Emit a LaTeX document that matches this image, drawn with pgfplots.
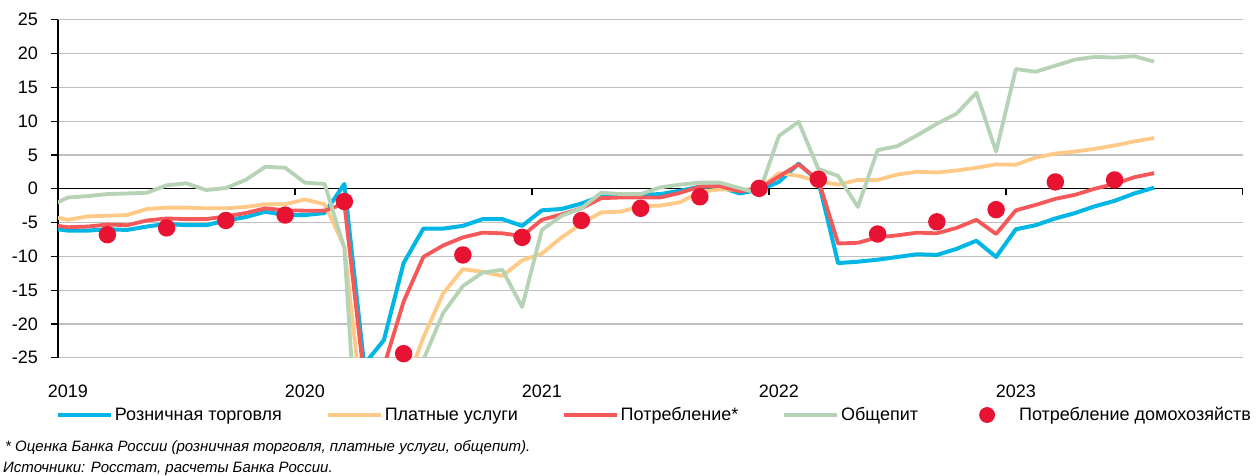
\documentclass[border=0pt]{standalone}
\usepackage{fontspec}
\setmainfont{Liberation Sans}
\usepackage{pgfplots}
\usepackage{pgfplotstable}
\pgfplotsset{compat=1.18}
\definecolor{cblue}{RGB}{0,182,228}
\definecolor{corange}{RGB}{255,202,135}
\definecolor{cred}{RGB}{245,88,88}
\definecolor{cgreen}{RGB}{182,211,182}
\definecolor{cdot}{RGB}{232,18,50}
\definecolor{cgrid}{RGB}{192,192,192}
\pgfplotsset{dotlegend/.style={legend image code/.code={\path[draw=none, fill=none] (0pt,0pt) -- (55pt,0pt);\draw[mark repeat=2, mark phase=2, ##1, mark size=6pt] plot coordinates {(0pt,0pt) (25pt,0pt) (50pt,0pt)};}}}

% x = month index + 0.5 (Jan 2019 = 0.5)
\pgfplotstableread{
x     retail serv  cons   cater
-0.5  -5.8   -4.0  -5.3   -2.7
0.5   -6.2   -4.6  -5.7   -1.3
1.5   -6.2   -4.1  -5.6   -1.1
2.5   -6.0   -4.0  -5.3   -0.8
3.5   -6.1   -3.9  -5.4   -0.7
4.5   -5.6   -3.0  -4.7   -0.6
5.5   -5.2   -2.8  -4.4    0.5
6.5   -5.4   -2.8  -4.5    0.8
7.5   -5.4   -2.9  -4.5   -0.2
8.5   -4.7   -2.9  -4.1    0.1
9.5   -4.2   -2.7  -3.6    1.3
10.5  -3.4   -2.3  -2.9    3.25
11.5  -3.9   -2.3  -3.2    3.1
12.5  -3.9   -1.6  -3.25   0.9
13.5  -3.6   -2.3  -3.25   0.7
14.5   0.7   -8.6  -2.2   -8.8
15.5 -26.0  -35.0 -28.0  -55.0
16.5 -22.4  -38.0 -26.3  -50.0
17.5 -11.0  -30.0 -16.7  -40.0
18.5  -5.9  -22.0 -10.1  -25.3
19.5  -5.9  -15.5  -8.4  -18.4
20.5  -5.5  -11.9  -7.2  -14.4
21.5  -4.5  -12.3  -6.5  -12.4
22.5  -4.5  -12.9  -6.6  -12.0
23.5  -5.5  -10.6  -7.0  -17.5
24.5  -3.2   -9.6  -4.6   -6.1
25.5  -3.0   -7.2  -3.8   -4.0
26.5  -2.2   -5.2  -2.9   -2.9
27.5  -1.1   -3.5  -1.4   -0.6
28.5  -0.9   -3.4  -1.3   -0.8
29.5  -0.9   -2.6  -1.3   -0.8
30.5  -0.8   -2.5  -1.3    0.2
31.5  -0.3   -2.0  -0.6    0.6
32.5   0.3   -0.5   0.3    0.9
33.5   0.3   -0.1   0.4    0.9
34.5  -0.7   -0.2  -0.4    0.1
35.5  -0.2    0.0   0.0   -0.7
36.5   1.0    2.3   1.8    7.8
37.5   3.7    1.9   3.6    9.9
38.5   1.1    1.1   1.3    2.9
39.5 -11.0    0.6  -8.1    1.9
40.5 -10.8    1.3  -8.0   -2.7
41.5 -10.5    1.3  -7.2    5.7
42.5 -10.1    2.1  -6.9    6.3
43.5  -9.7    2.5  -6.5    7.9
44.5  -9.8    2.4  -6.6    9.6
45.5  -8.9    2.7  -5.8   11.1
46.5  -7.7    3.1  -4.6   14.2
47.5 -10.1    3.6  -6.7    5.5
48.5  -6.0    3.55 -3.2   17.7
49.5  -5.4    4.6  -2.4   17.3
50.5  -4.4    5.2  -1.5   18.2
51.5  -3.6    5.5  -0.9   19.1
52.5  -2.6    5.9   0.0   19.5
53.5  -1.8    6.4   0.7   19.4
54.5  -0.7    7.0   1.7   19.6
55.5   0.15   7.5   2.3   18.8
}\monthly

\pgfplotstableread{
x     hh
2.5   -6.8
5.5   -5.8
8.5   -4.7
11.5  -3.9
14.5  -1.9
17.5  -24.4
20.5  -9.8
23.5  -7.2
26.5  -4.7
29.5  -2.9
32.5  -1.2
35.5   0.05
38.5   1.4
41.5  -6.7
44.5  -4.9
47.5  -3.1
50.5   1.0
53.5   1.3
}\quarterly

\begin{document}
\begin{tikzpicture}[x=1pt,y=1pt]
\path[use as bounding box] (0,0) rectangle (1258,475);
\begin{axis}[
  at={(58pt,117.3pt)}, anchor=south west,
  scale only axis, width=1185pt, height=338pt,
  xmin=0, xmax=60, ymin=-25, ymax=25,
  axis y line*=left, axis x line*=bottom,
  x axis line style={draw=none},
  y axis line style={black, line width=1.2pt, -},
  ytick={-25,-20,...,25},
  yticklabels={-25,-20,-15,-10,-5,0,5,10,15,20,25},
  ymajorgrids, grid style={color=cgrid, line width=1.2pt},
  tick align=outside, major tick length=7pt,
  ytick style={black, line width=1.2pt},
  xtick={0.5,12.5,24.5,36.5,48.5},
  xticklabels={2019,2020,2021,2022,2023},
  xtick style={draw=none},
  tick label style={font=\fontsize{18}{20}\selectfont},
  yticklabel style={anchor=east, inner sep=0pt, xshift=-13pt},
  xticklabel style={anchor=north, inner sep=0pt, yshift=-20pt},
  every axis plot/.append style={line width=3.8pt, line join=round},
  legend columns=5,
  legend style={at={(-0.0017,-0.1695)}, anchor=west, draw=none, fill=none,
    inner sep=0pt, outer sep=0pt,
    font=\fontsize{18}{20}\selectfont,
    nodes={inner sep=0pt, outer sep=0pt},
    /tikz/every odd column/.append style={column sep=2pt},
    /tikz/every even column/.append style={column sep=44pt}},
  legend cell align=left,
  legend image code/.code={\draw[#1] (0pt,0pt) -- (53pt,0pt);},
]
\draw[black, line width=1.2pt] (axis cs:0,0) -- (axis cs:60,0);
\pgfplotsinvokeforeach{12,24,36,48,60}{\draw[black, line width=1.2pt] (axis cs:#1,0) -- ++(0pt,-6pt);}
\addplot[cblue, line width=4pt] table[x=x, y=retail] {\monthly};
\addlegendentry{Розничная торговля}
\addplot[corange] table[x=x, y=serv] {\monthly};
\addlegendentry{Платные услуги}
\addplot[cred] table[x=x, y=cons] {\monthly};
\addlegendentry{Потребление*}
\addplot[cgreen] table[x=x, y=cater] {\monthly};
\addlegendentry{Общепит}
\addplot[only marks, mark=*, mark size=6.8pt, mark options={draw=cdot, fill=cdot}, dotlegend]
  table[x=x, y=hh] {\quarterly};
\addlegendentry{Потребление домохозяйств}
\end{axis}
\node[anchor=base west, inner sep=0pt, font=\itshape\fontsize{15}{18}\selectfont] at (5,{475-451}) {* Оценка Банка России (розничная торговля, платные услуги, общепит).};
\node[anchor=base west, inner sep=0pt, font=\itshape\fontsize{15}{18}\selectfont] at (3,{475-472.3}) {Источники: Росстат, расчеты Банка России.};
\end{tikzpicture}
\end{document}
